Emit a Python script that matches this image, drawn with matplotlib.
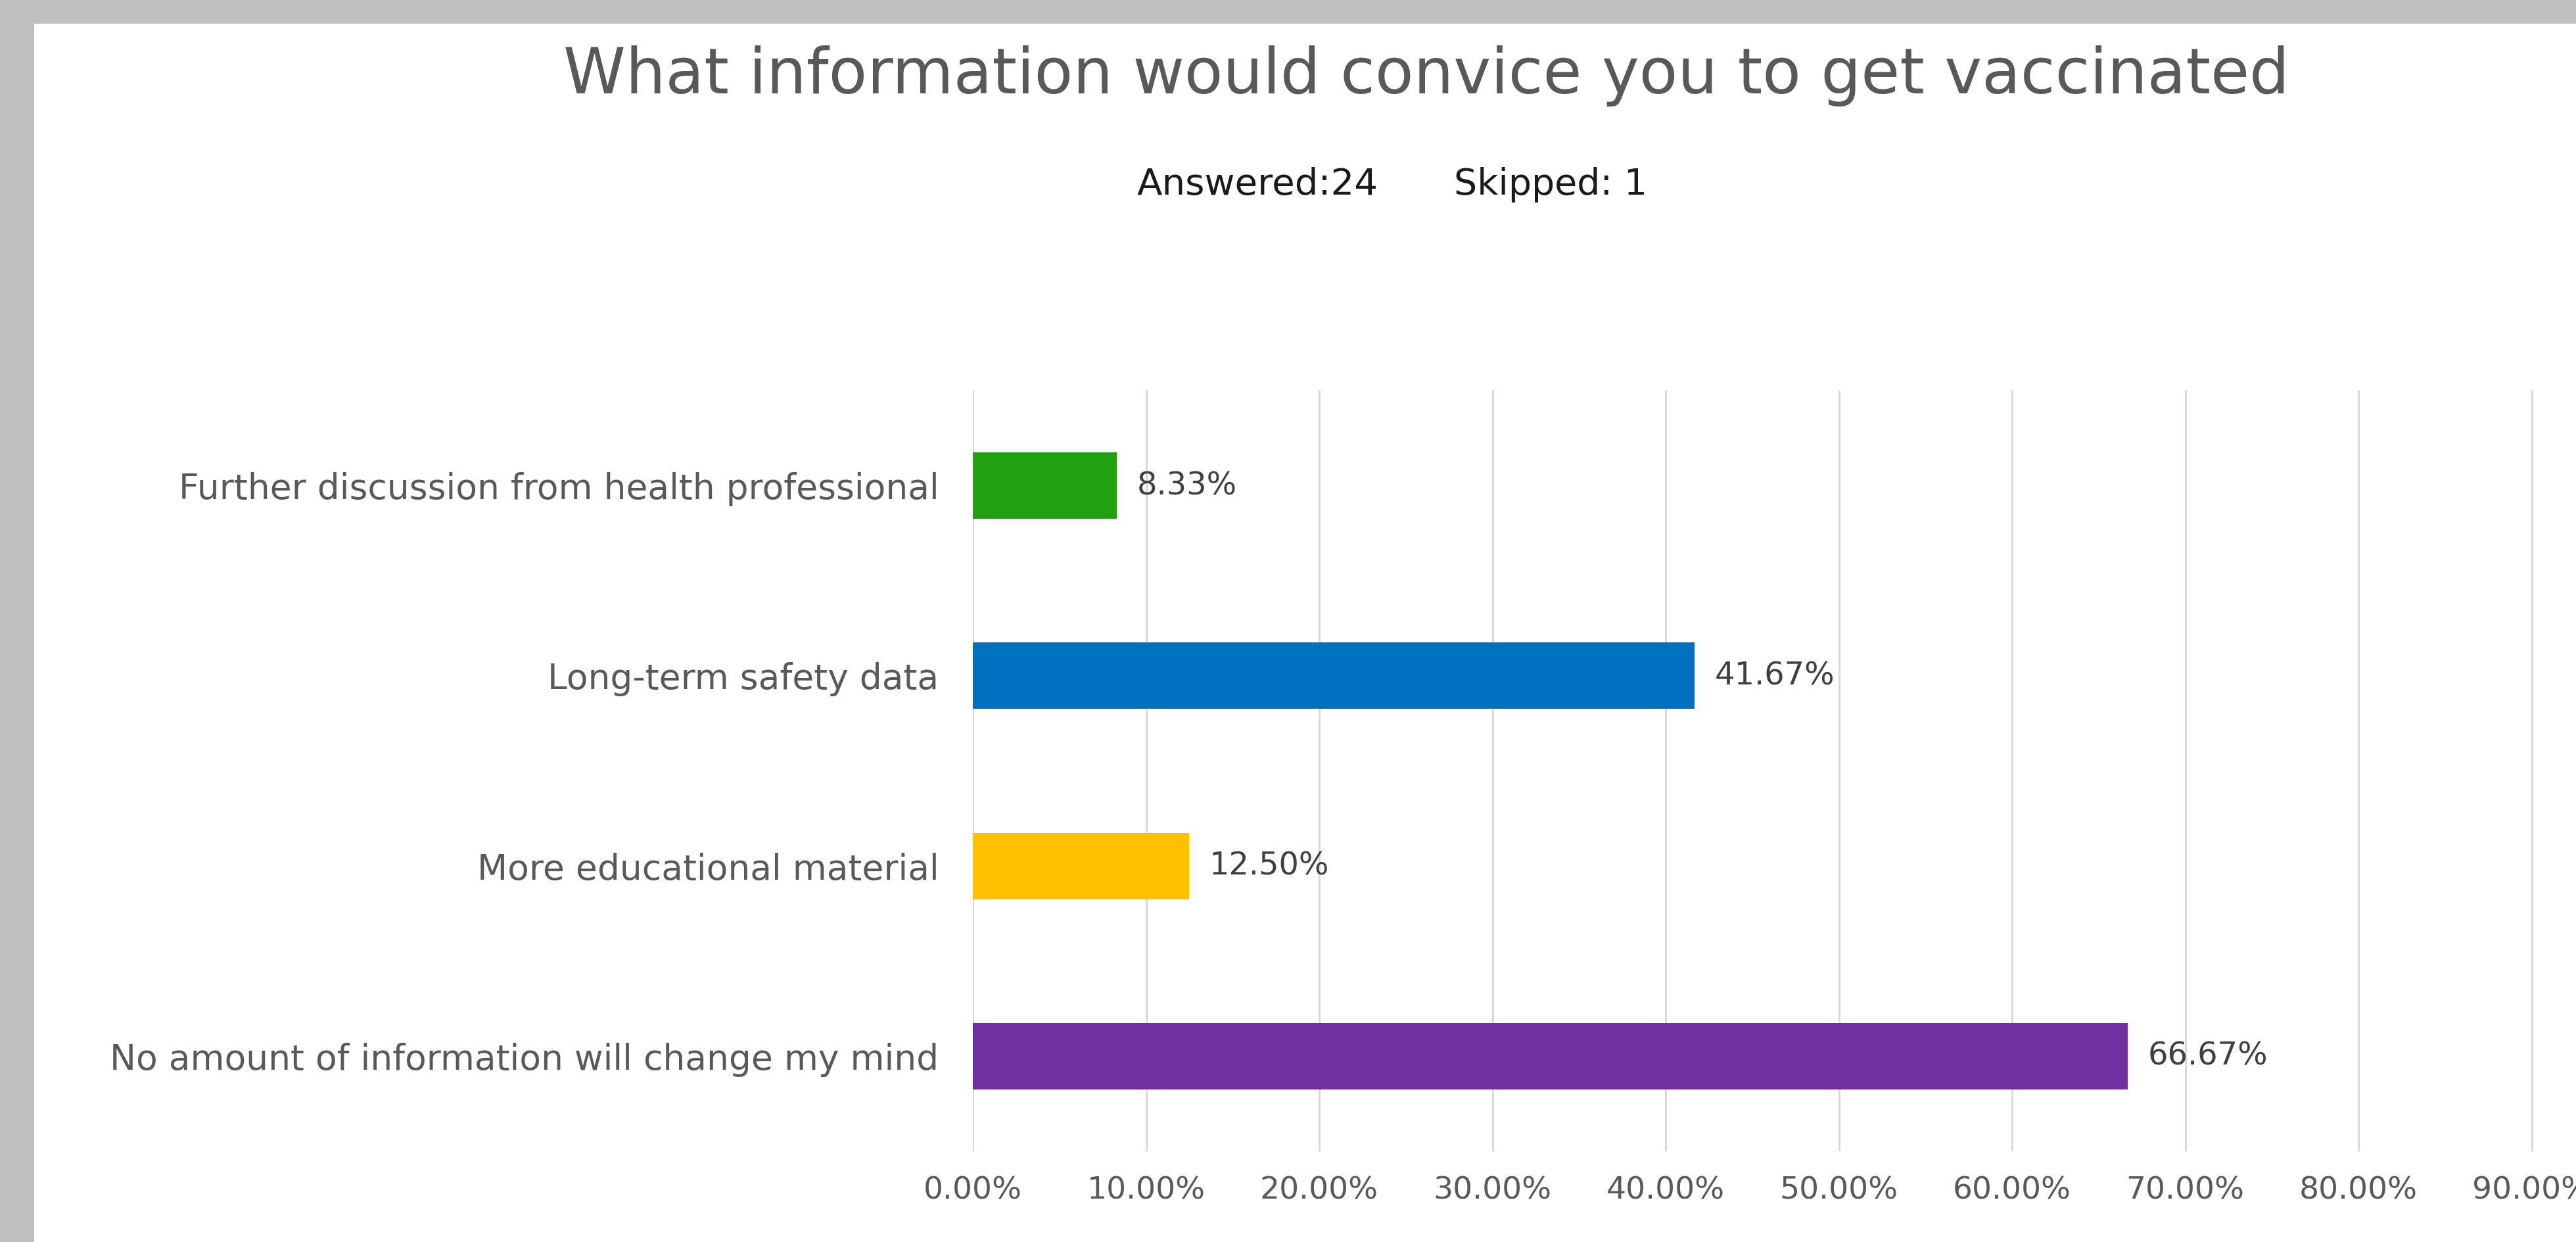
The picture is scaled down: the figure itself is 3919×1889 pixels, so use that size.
import matplotlib.pyplot as plt
from matplotlib.patches import Rectangle
from matplotlib.ticker import PercentFormatter

plt.rcParams['font.family'] = ['DejaVu Sans']

categories = ['Further discussion from health professional',
              'Long-term safety data',
              'More educational material',
              'No amount of information will change my mind']
percent = [8.33, 41.67, 12.50, 66.67]
colors = ['#21A011', '#0070C0', '#FFC000', '#7030A0']
ticks = [0, 10, 20, 30, 40, 50, 60, 70, 80, 90, 100]

W, H = 3919, 1889
fig = plt.figure(figsize=(W / 100, H / 100), dpi=100, facecolor='#BFBFBF')
# white chart area inside the grey frame
fig.add_artist(Rectangle((52 / W, 0), 1, 1 - 36 / H, transform=fig.transFigure,
                         facecolor='white', edgecolor='none', zorder=0))

# axes runs off the right edge, the way the original screenshot is cropped
ax = fig.add_axes([1480 / W, 1 - 1751 / H, 2635 / W, (1751 - 594) / H])
ax.set_facecolor('none')

bars = ax.barh(categories, percent, height=0.35, color=colors, zorder=3)
ax.set_ylim(3.5, -0.5)
ax.set_xlim(0, 100)
ax.set_xticks(ticks)
ax.xaxis.set_major_formatter(PercentFormatter(decimals=2))
ax.grid(axis='x', color='#D9D9D9', linewidth=2.2, zorder=0)
for s in ax.spines.values():
    s.set_visible(False)
ax.tick_params(axis='x', length=0, pad=27, labelsize=34, labelcolor='#595959')
ax.tick_params(axis='y', length=0, pad=37, labelsize=38.5, labelcolor='#595959')

ax.bar_label(bars, labels=[f'{v:.2f}%' for v in percent], padding=22,
             fontsize=34.5, color='#404040')

fig.text(2170 / W, 1 - 116 / H, 'What information would convice you to get vaccinated',
         ha='center', va='center', fontsize=69, color='#595959')
fig.text(1730 / W, 1 - 281 / H, 'Answered:24', ha='left', va='center',
         fontsize=40.5, color='#1a1a1a')
fig.text(2212 / W, 1 - 281 / H, 'Skipped: 1', ha='left', va='center',
         fontsize=40, color='#1a1a1a')

fig.savefig('out.png', dpi=100, facecolor=fig.get_facecolor())
